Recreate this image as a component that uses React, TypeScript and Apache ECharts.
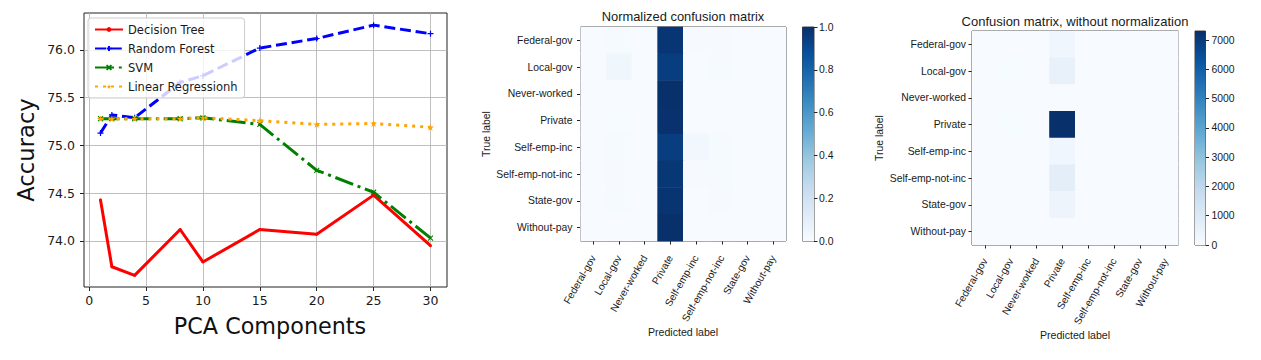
import React, { useEffect, useRef } from "react";
import * as echarts from "echarts";

// ---------- Line chart data ----------
const pcaComponents = [1, 2, 4, 8, 10, 15, 20, 25, 30];
const decisionTree = [74.43, 73.73, 73.64, 74.12, 73.78, 74.12, 74.07, 74.48, 73.95];
const randomForest = [75.13, 75.32, 75.29, 75.66, 75.73, 76.02, 76.12, 76.26, 76.17];
const svm = [75.28, 75.28, 75.28, 75.28, 75.29, 75.22, 74.74, 74.51, 74.03];
const linearRegression = [75.28, 75.28, 75.28, 75.28, 75.29, 75.26, 75.22, 75.23, 75.19];
const xTicks = [0, 5, 10, 15, 20, 25, 30];
const yTicks = [74.0, 74.5, 75.0, 75.5, 76.0];

// ---------- Confusion matrices ----------
const workclasses = [
  "Federal-gov",
  "Local-gov",
  "Never-worked",
  "Private",
  "Self-emp-inc",
  "Self-emp-not-inc",
  "State-gov",
  "Without-pay",
];
// rows = true label, cols = predicted label
const normalizedMatrix = [
  [0, 0.011, 0, 0.978, 0.004, 0.007, 0, 0],
  [0, 0.041, 0, 0.948, 0.002, 0.008, 0.002, 0],
  [0, 0, 0, 1.0, 0, 0, 0, 0],
  [0, 0.003, 0, 0.995, 0.001, 0.001, 0, 0],
  [0, 0.01, 0, 0.948, 0.031, 0.01, 0, 0],
  [0, 0.005, 0, 0.974, 0.005, 0.011, 0, 0],
  [0, 0.01, 0, 0.984, 0, 0.005, 0, 0],
  [0, 0, 0, 1.0, 0, 0, 0, 0],
];
const countMatrix = [
  [0, 3, 0, 265, 1, 2, 0, 0],
  [0, 24, 0, 560, 1, 5, 1, 0],
  [0, 0, 0, 2, 0, 0, 0, 0],
  [0, 20, 0, 7310, 8, 4, 1, 0],
  [0, 3, 0, 275, 9, 3, 0, 0],
  [0, 4, 0, 740, 4, 8, 0, 0],
  [0, 4, 0, 375, 0, 2, 0, 0],
  [0, 0, 0, 4, 0, 0, 0, 0],
];
const normTicks = [0, 0.2, 0.4, 0.6, 0.8, 1.0];
const countTicks = [0, 1000, 2000, 3000, 4000, 5000, 6000, 7000];
const countMax = 7310;

const blues = [
  "#f7fbff",
  "#deebf7",
  "#c6dbef",
  "#9ecae1",
  "#6baed6",
  "#4292c6",
  "#2171b5",
  "#08519c",
  "#08306b",
];

const MPL = "DejaVu Sans";
const CM = "Liberation Sans";
const TXT = "#1a1a1a";

function toCells(m: number[][]) {
  const out: number[][] = [];
  m.forEach((row, r) => row.forEach((v, c) => out.push([c, r, v])));
  return out;
}

function cbGradient() {
  return new echarts.graphic.LinearGradient(
    0,
    1,
    0,
    0,
    blues.map((c, i) => ({ offset: i / (blues.length - 1), color: c }))
  );
}

function matrixXAxis(gridIndex: number, margin: number) {
  return {
    gridIndex,
    type: "category",
    data: workclasses,
    axisLine: { show: false, onZero: false },
    axisTick: { show: true, alignWithLabel: true, interval: 0, length: 3.5, lineStyle: { color: "#222", width: 1 } },
    axisLabel: { interval: 0, rotate: 60, fontSize: 10.2, fontFamily: CM, color: TXT, margin },
    splitLine: { show: false },
  };
}
function matrixYAxis(gridIndex: number, margin: number) {
  return {
    gridIndex,
    type: "category",
    data: workclasses,
    inverse: true,
    axisLine: { show: false, onZero: false },
    axisTick: { show: true, alignWithLabel: true, interval: 0, length: 3.5, lineStyle: { color: "#222", width: 1 } },
    axisLabel: { interval: 0, fontSize: 10.4, fontFamily: CM, color: TXT, margin },
    splitLine: { show: false },
  };
}
function cbXAxis(gridIndex: number) {
  return { gridIndex, type: "category", data: ["cb"], show: false };
}
function cbYAxis(gridIndex: number, max: number, ticks: number[], fmt: (v: number) => string, margin: number) {
  return {
    gridIndex,
    type: "value",
    position: "right",
    min: 0,
    max,
    axisLine: { show: false, onZero: false },
    axisTick: { show: true, length: 3.5, customValues: ticks, lineStyle: { color: "#222", width: 1 } },
    axisLabel: { customValues: ticks, formatter: fmt, fontSize: 10.4, fontFamily: CM, color: TXT, margin },
    splitLine: { show: false },
  };
}

export default function App() {
  const ref = useRef<HTMLDivElement>(null);
  useEffect(() => {
    if (!ref.current) return;
    const chart = echarts.init(ref.current, null, { renderer: "svg" });
    const pts = (vals: number[]) => pcaComponents.map((x, i) => [x, vals[i]]);
    const option: any = {
      animation: false,
      textStyle: { fontFamily: MPL },
      grid: [
        { left: 84, top: 13, width: 363, height: 274, show: true, borderColor: "#222", borderWidth: 1 },
        { left: 580.5, top: 27, width: 205.5, height: 214, show: true, borderColor: "#222", borderWidth: 1 },
        { left: 802.5, top: 27, width: 11.5, height: 214, show: true, borderColor: "#444", borderWidth: 1 },
        { left: 972, top: 31, width: 206.5, height: 214, show: true, borderColor: "#222", borderWidth: 1 },
        { left: 1195, top: 31, width: 10.5, height: 214, show: true, borderColor: "#444", borderWidth: 1 },
      ],
      xAxis: [
        {
          gridIndex: 0,
          type: "value",
          min: -0.45,
          max: 31.45,
          axisLine: { show: false, onZero: false },
          axisTick: { show: true, length: 4, customValues: xTicks, lineStyle: { color: "#222", width: 1 } },
          axisLabel: { customValues: xTicks, fontSize: 12.5, fontFamily: MPL, color: TXT, margin: 7 },
          splitLine: { show: true, lineStyle: { color: "#b0b0b0", width: 0.8 } },
        },
        matrixXAxis(1, 15),
        cbXAxis(2),
        matrixXAxis(3, 14),
        cbXAxis(4),
      ],
      yAxis: [
        {
          gridIndex: 0,
          type: "value",
          min: 73.518,
          max: 76.387,
          axisLine: { show: false, onZero: false },
          axisTick: { show: true, length: 4, customValues: yTicks, lineStyle: { color: "#222", width: 1 } },
          axisLabel: {
            customValues: yTicks,
            formatter: (v: number) => v.toFixed(1),
            fontSize: 12.5,
            fontFamily: MPL,
            color: TXT,
            margin: 9,
          },
          splitLine: { show: true, lineStyle: { color: "#b0b0b0", width: 0.8 } },
        },
        matrixYAxis(1, 8),
        cbYAxis(2, 1, normTicks, (v: number) => v.toFixed(1), 5),
        matrixYAxis(3, 6),
        cbYAxis(4, countMax, countTicks, (v: number) => String(v), 6),
      ],
      legend: {
        data: ["Decision Tree", "Random Forest", "SVM", "Linear Regressionh"],
        orient: "vertical",
        left: 88,
        top: 18,
        itemWidth: 28,
        itemHeight: 6,
        itemGap: 6,
        padding: [5, 7, 5, 6],
        backgroundColor: "rgba(255,255,255,0.8)",
        borderColor: "#cccccc",
        borderWidth: 1,
        borderRadius: 3,
        textStyle: { fontSize: 11.5, lineHeight: 13, fontFamily: MPL, color: TXT },
        selectedMode: false,
      },
      visualMap: [
        { type: "continuous", show: false, seriesIndex: 4, min: 0, max: 1, inRange: { color: blues } },
        { type: "continuous", show: false, seriesIndex: 6, min: 0, max: countMax, inRange: { color: blues } },
      ],
      series: [
        {
          name: "Decision Tree",
          type: "line",
          xAxisIndex: 0,
          yAxisIndex: 0,
          data: pts(decisionTree),
          symbol: "circle",
          symbolSize: 3,
          color: "#ff0000",
          lineStyle: { color: "#ff0000", width: 3, type: "solid" },
          itemStyle: { color: "#ff0000", borderWidth: 0 },
          emphasis: { disabled: true },
        },
        {
          name: "Random Forest",
          type: "line",
          xAxisIndex: 0,
          yAxisIndex: 0,
          data: pts(randomForest),
          symbol: "path://M0,5L10,5M5,0L5,10",
          symbolSize: 6,
          color: "#0000ff",
          lineStyle: { color: "#0000ff", width: 3, type: [11, 4.8] },
          itemStyle: { color: "#0000ff", borderColor: "#0000ff", borderWidth: 1.2 },
          emphasis: { disabled: true },
        },
        {
          name: "SVM",
          type: "line",
          xAxisIndex: 0,
          yAxisIndex: 0,
          data: pts(svm),
          symbol: "path://M0,0L10,10M10,0L0,10",
          symbolSize: 5,
          color: "#008000",
          lineStyle: { color: "#008000", width: 3, type: [19, 4.8, 3, 4.8] },
          itemStyle: { color: "#008000", borderColor: "#008000", borderWidth: 1.1 },
          emphasis: { disabled: true },
        },
        {
          name: "Linear Regressionh",
          type: "line",
          xAxisIndex: 0,
          yAxisIndex: 0,
          data: pts(linearRegression),
          symbol: "path://M5,0L6.2,3.6L10,3.6L6.9,5.9L8.1,9.5L5,7.3L1.9,9.5L3.1,5.9L0,3.6L3.8,3.6Z",
          symbolSize: 7,
          color: "#ffa500",
          lineStyle: { color: "#ffa500", width: 3, type: [3, 5] },
          itemStyle: { color: "#ffa500", borderWidth: 0 },
          emphasis: { disabled: true },
        },
        {
          type: "heatmap",
          xAxisIndex: 1,
          yAxisIndex: 1,
          data: toCells(normalizedMatrix),
          emphasis: { disabled: true },
        },
        {
          type: "bar",
          xAxisIndex: 2,
          yAxisIndex: 2,
          data: [1],
          barWidth: "100%",
          itemStyle: { color: cbGradient() },
          emphasis: { disabled: true },
        },
        {
          type: "heatmap",
          xAxisIndex: 3,
          yAxisIndex: 3,
          data: toCells(countMatrix),
          emphasis: { disabled: true },
        },
        {
          type: "bar",
          xAxisIndex: 4,
          yAxisIndex: 4,
          data: [countMax],
          barWidth: "100%",
          itemStyle: { color: cbGradient() },
          emphasis: { disabled: true },
        },
      ],
      graphic: [
        {
          type: "text",
          x: 26,
          y: 150,
          rotation: Math.PI / 2,
          style: { text: "Accuracy", fontSize: 22.7, fontFamily: MPL, fill: "#111", align: "center", verticalAlign: "middle" },
        },
        {
          type: "text",
          x: 270,
          y: 326,
          style: { text: "PCA Components", fontSize: 22.3, fontFamily: MPL, fill: "#111", align: "center", verticalAlign: "middle" },
        },
        {
          type: "text",
          x: 683,
          y: 16.5,
          style: { text: "Normalized confusion matrix", fontSize: 12.9, fontFamily: CM, fill: TXT, align: "center", verticalAlign: "middle" },
        },
        {
          type: "text",
          x: 1075,
          y: 21.5,
          style: { text: "Confusion matrix, without normalization", fontSize: 13, fontFamily: CM, fill: TXT, align: "center", verticalAlign: "middle" },
        },
        {
          type: "text",
          x: 486,
          y: 134,
          rotation: Math.PI / 2,
          style: { text: "True label", fontSize: 10.4, fontFamily: CM, fill: TXT, align: "center", verticalAlign: "middle" },
        },
        {
          type: "text",
          x: 879,
          y: 138,
          rotation: Math.PI / 2,
          style: { text: "True label", fontSize: 10.4, fontFamily: CM, fill: TXT, align: "center", verticalAlign: "middle" },
        },
        {
          type: "text",
          x: 683,
          y: 331.5,
          style: { text: "Predicted label", fontSize: 10.6, fontFamily: CM, fill: TXT, align: "center", verticalAlign: "middle" },
        },
        {
          type: "text",
          x: 1075,
          y: 334.5,
          style: { text: "Predicted label", fontSize: 10.6, fontFamily: CM, fill: TXT, align: "center", verticalAlign: "middle" },
        },
      ],
    };
    chart.setOption(option);
    return () => chart.dispose();
  }, []);
  return (
    <div
      ref={ref}
      style={{ position: "absolute", left: 0, top: 0, width: 1261, height: 360, background: "#fff" }}
    />
  );
}
